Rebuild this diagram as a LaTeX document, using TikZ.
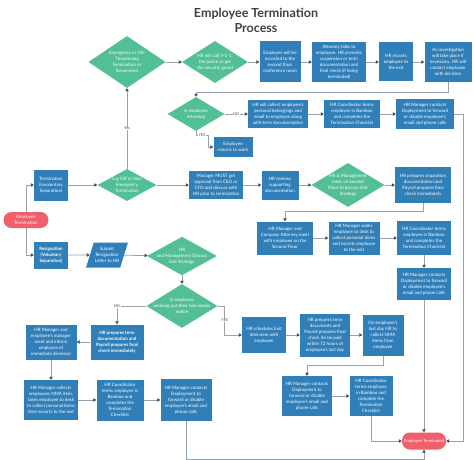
\documentclass[tikz,border=0pt]{standalone}
\usepackage{fontspec}
\setmainfont{Lato}
\usetikzlibrary{shapes.geometric,arrows.meta}
\definecolor{boxblue}{RGB}{48,127,184}
\definecolor{diagreen}{RGB}{82,192,148}
\definecolor{pillred}{RGB}{240,96,108}
\definecolor{linegray}{RGB}{150,162,174}
\definecolor{tipdark}{RGB}{55,78,100}
\definecolor{titlegray}{RGB}{64,64,64}

\begin{document}
\begin{tikzpicture}[
  x=1pt, y=-1pt,
  every node/.style={text=white, align=center, inner sep=1pt, font=\fontsize{4.5}{6}\selectfont},
  sz/.style 2 args={minimum width=#1pt, minimum height=#2pt},
  box/.style={rectangle, fill=boxblue},
  dia/.style={diamond, fill=diagreen, inner sep=-7pt},
  pill/.style={rectangle, rounded corners=8pt, fill=pillred},
  slant/.style={trapezium, trapezium left angle=66, trapezium right angle=114, trapezium stretches=true, fill=boxblue},
  conn/.style={draw=linegray, line width=0.8pt, -{Triangle[length=3pt, width=3.4pt, color=tipdark]}},
  lbl/.style={fill=white, text=titlegray, inner sep=0.6pt, font=\fontsize{3.8}{4.5}\selectfont},
]
\useasboundingbox[fill=white] (0,0) rectangle (474,460);

\node[font=\bfseries\fontsize{12.5}{15}\selectfont, text=titlegray] (title) at (256,20) {Employee Termination\\Process};

\node[dia, sz={77}{52}] (d1) at (127,62) {Emergency or Life\\Threatening\\Termination or\\Suspension};
\node[dia, sz={66}{42}] (d2) at (215,62) {HR will call 9-1-1,\\the police or get\\the security guard};
\node[box, sz={41}{41}] (escort) at (280,62) {Employee will be\\escorted to the\\second floor\\conference room};
\node[box, sz={54}{40}] (attorney) at (339,62) {Attorney talks to\\employee. HR presents\\suspension or term\\documentation and\\final check (if being\\terminated)};
\node[box, sz={34}{39}] (hrexit) at (396,62) {HR escorts\\employee to\\the exit};
\node[box, sz={47}{40}] (invest) at (448,62) {An investigation\\will take place if\\necessary.  HR will\\contact employee\\with decision};

\node[dia, sz={57}{34}] (d3) at (196,114) {Is employee\\returning};
\node[box, sz={60}{28}] (collect) at (278,114) {HR will collect employee's\\personal belongings and\\email to employee along\\with term documentation};
\node[box, sz={56}{28}] (coord1) at (352,114) {HR Coordinator terms\\employee in Bamboo\\and completes the\\Termination Checklist};
\node[box, sz={58}{30}] (deploy1) at (425,114) {HR Manager contacts\\Deployment to forward\\or disable employee's\\email and phone calls};
\node[box, sz={39}{20}] (returns) at (233,147) {Employee\\returns to work};

\node[pill, sz={45}{16}] (start) at (26,220) {Employee\\Termination};
\node[box, sz={34}{31}] (term) at (51,185) {Termination\\(Involuntary\\Separation)};
\node[dia, sz={59}{32}] (d4) at (127,185) {Lay Off or Non\\Emergency\\Termination};
\node[box, sz={54}{28}] (mgr) at (216,185) {Manager MUST get\\approval from CEO or\\CFO  and discuss with\\HR prior to termination};
\node[box, sz={37}{29}] (review) at (280,185) {HR reviews\\supporting\\documentation};
\node[dia, sz={73}{44}] (d5) at (348,185) {HR \& Management\\meet on Second\\Floor to discuss Exit\\Strategy};
\node[box, sz={56}{36}] (seprep) at (423,185) {HR prepares separation\\documentation and\\Payroll prepares final\\check immediately};

\node[box, sz={56}{33}] (meet) at (285,238) {HR Manager and\\Company Attorney meet\\with employee on the\\Second Floor};
\node[box, sz={51}{33}] (walks) at (354,238) {HR Manager walks\\employee to desk to\\collect personal items\\and escorts employee\\to the exit};
\node[box, sz={54}{34}] (coord2) at (424,238) {HR Coordinator terms\\employee in Bamboo\\and completes the\\Termination Checklist};
\node[box, sz={54}{32}] (deploy2) at (424,284) {HR Manager contacts\\Deployment to forward\\or disable employee's\\email and phone calls};

\node[box, sz={34}{27}, font=\bfseries\fontsize{4.5}{6}\selectfont] (resign) at (51,255) {Resignation\\(Voluntary\\Separation)};
\node[slant, sz={42}{25}] (submit) at (107,255) {Submit\\Resignation\\Letter to HR};
\node[dia, sz={70}{36}] (d6) at (182,256) {HR\\and Management Discuss\\Exit Strategy};
\node[dia, sz={71}{42}] (d7) at (182,306) {Is employee\\working out their two weeks\\notice};

\node[box, sz={53}{35}, font=\bfseries\fontsize{4.5}{6}\selectfont] (prep) at (117,342) {HR prepares term\\documentation and\\Payroll prepares final\\check immediately};
\node[box, sz={51}{35}] (manmeet) at (51,342) {HR Manager and\\employee's manager\\meet and inform\\employee of\\immediate dismissal};
\node[box, sz={54}{40}] (collects) at (51,400) {HR Manager collects\\employees NMA item,\\takes employee to desk\\to collect personal items\\then escorts to the exit};
\node[box, sz={47}{41}] (coord3) at (120,400) {HR Coordinator\\terms employee in\\Bamboo and\\completes the\\Termination\\Checklist};
\node[box, sz={51}{42}] (deploy3) at (186,400) {HR Manager contacts\\Deployment to\\forward or disable\\employee's email and\\phone calls};

\node[box, sz={44}{36}] (exitint) at (264,335) {HR schedules Exit\\Interview with\\employee};
\node[box, sz={50}{43}] (prep2) at (325,335) {HR prepares term\\documents and\\Payroll prepares final\\check (to be paid\\within 72 hours of\\employee's last day};
\node[box, sz={41}{41}] (lastday) at (383,335) {On employee's\\last day HR to\\collect NMA\\items from\\employee};
\node[box, sz={50}{40}] (deploy4) at (307,396) {HR Manager contacts\\Deployment to\\forward or disable\\employee's email and\\phone calls};
\node[box, sz={43}{40}] (coord4) at (371,396) {HR Coordinator\\terms employee\\in Bamboo and\\complete the\\Termination\\Checklist};

\node[pill, sz={44}{17}, font=\fontsize{4.2}{5.6}\selectfont] (endterm) at (424,441) {Employee Terminated};

\draw[conn] (d1) -- (d2);
\draw[conn] (d2) -- (escort);
\draw[conn] (escort) -- (attorney);
\draw[conn] (attorney) -- (hrexit);
\draw[conn] (hrexit) -- (invest);
\draw[conn] (invest.south) -- ++(0,10) -| (d3.north);
\draw[conn] (d3) -- node[lbl]{NO} (collect);
\draw[conn] (collect) -- (coord1);
\draw[conn] (coord1) -- (deploy1);
\draw[conn] (deploy1.east) -- ++(9,0) |- (endterm.east);
\draw[conn] (d3.south) -- ++(0,4) -- node[lbl]{YES} ++(12,0) |- (returns.west);

\draw[conn] (d4) -- node[lbl]{Yes} (d1);
\draw[conn] (start.north) |- (term.west);
\draw[conn] (start.south) |- (resign.west);
\draw[conn] (term) -- (d4);
\draw[conn] (d4) -- (mgr);
\draw[conn] (mgr) -- (review);
\draw[conn] (review) -- (d5);
\draw[conn] (d5) -- (seprep);
\draw[conn] (seprep.south) -- ++(0,8) -| (meet.north);
\draw[conn] (meet) -- (walks);
\draw[conn] (walks) -- (coord2);
\draw[conn] (coord2) -- (deploy2);
\draw[conn] (deploy2) -- (endterm);

\draw[conn] (resign) -- (submit);
\draw[conn] (submit) -- (d6);
\draw[conn] (d6) -- (d7);
\draw[conn] (d7.west) -| node[lbl]{NO} (prep.north);
\draw[conn] (prep) -- (manmeet);
\draw[conn] (manmeet) -- (collects);
\draw[conn] (collects) -- (coord3);
\draw[conn] (coord3) -- (deploy3);
\draw[conn] (deploy3.south) -- ++(0,38) -| (endterm.south);
\draw[conn] (d7.east) -- ++(7,0) |- node[lbl, pos=0.25]{YES} (exitint.west);
\draw[conn] (exitint) -- (prep2);
\draw[conn] (prep2) -- (lastday);
\draw[conn] (lastday.south) -- ++(0,10) -| (deploy4.north);
\draw[conn] (deploy4) -- (coord4);
\draw[conn] (coord4.south) |- (endterm.west);
\end{tikzpicture}
\end{document}
